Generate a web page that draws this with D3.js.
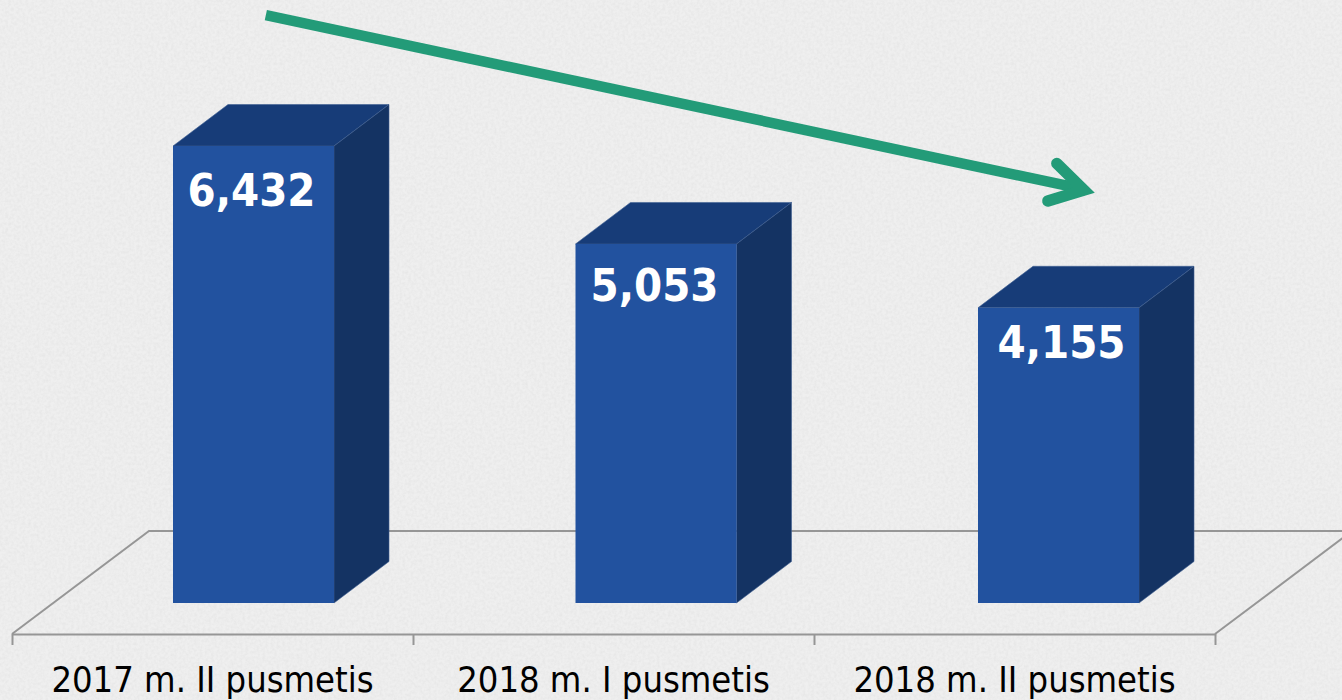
<!DOCTYPE html>
<html>
<head>
<meta charset="utf-8">
<script src="https://cdn.jsdelivr.net/npm/d3@7"></script>
<style>
html, body { margin: 0; padding: 0; background: #eeeeee; overflow: hidden; }
svg { display: block; }
</style>
</head>
<body>
<svg id="chart" width="1342" height="700"></svg>
<script>
var categories = ["2017 m. II pusmetis", "2018 m. I pusmetis", "2018 m. II pusmetis"]
var values = [6432, 5053, 4155]
// trend arrow ends: position along the floor (in categories) and height (in chart units)
var trendAlong = [0.633, 2.663]
var trendLevel = [8275, 5834]

var width = 1342
var height = 700
var floorY = 634
var floorLeft = 12
var floorRight = 1215
var floorDepth = {x: 137, y: -103}
var barDepth = {x: 55, y: -41.5}
var barBase = 603
var lineColor = "#969696"
var green = "#239b78"
var textFont = "'DejaVu Sans', sans-serif"

var svg = d3.select("#chart")

// paper texture behind everything
var defs = svg.append("defs")
var noise = defs.append("filter").attr("id", "paper")
    .attr("x", 0).attr("y", 0).attr("width", "100%").attr("height", "100%")
noise.append("feTurbulence")
    .attr("type", "fractalNoise")
    .attr("baseFrequency", 0.35)
    .attr("numOctaves", 3)
    .attr("seed", 4)
noise.append("feColorMatrix")
    .attr("type", "matrix")
    .attr("values", "0 0 0 0 0.5  0 0 0 0 0.5  0 0 0 0 0.5  0.28 0 0 0 -0.09")

svg.append("rect").attr("width", width).attr("height", height).attr("fill", "#efefef")
svg.append("rect").attr("width", width).attr("height", height).attr("filter", "url(#paper)")

// labels follow the floor, bars are pushed back on it so they get their own scale
var x = d3.scaleBand().domain(categories).range([floorLeft, floorRight]).paddingInner(0.6).paddingOuter(0.3)
var barX = d3.scaleBand().domain(categories).range([173, 1139]).paddingInner(0.6).paddingOuter(0)
var edges = d3.scaleLinear().domain([0, categories.length]).range([floorLeft, floorRight])
var y = d3.scaleLinear().domain([0, 6432]).range([barBase, 146])

// floor of the 3d plot
svg.append("path")
    .attr("d", d3.line()([
        [floorLeft, floorY],
        [floorLeft + floorDepth.x, floorY + floorDepth.y],
        [floorRight + floorDepth.x, floorY + floorDepth.y],
        [floorRight, floorY]
    ]))
    .attr("fill", "none")
    .attr("stroke", lineColor)
    .attr("stroke-width", 2)

var tickAxis = d3.axisBottom(edges).ticks(categories.length).tickSize(11).tickSizeOuter(0).tickFormat("")
var tickGroup = svg.append("g").attr("transform", "translate(0," + floorY + ")").call(tickAxis)
tickGroup.selectAll("line").attr("stroke", lineColor).attr("stroke-width", 2)
tickGroup.select(".domain").attr("stroke", lineColor).attr("stroke-width", 2)

var labelAxis = d3.axisBottom(x).tickSize(0).tickPadding(32)
var labelGroup = svg.append("g").attr("transform", "translate(0," + floorY + ")").call(labelAxis)
labelGroup.select(".domain").remove()
labelGroup.selectAll("text")
    .attr("fill", "#000000")
    .attr("font-family", textFont)
    .attr("font-stretch", "condensed")
    .attr("font-size", 36)

var labelNudge = [-2, -1.5, 3]
var labelDrop = [60, 57, 50]

var bars = svg.selectAll("g.bar")
    .data(values)
    .enter()
    .append("g")
    .attr("class", "bar")

function barLeft(d, i) { return barX(categories[i]) }

bars.append("polygon")
    .attr("fill", "#173c78")
    .attr("stroke", "#3f5f92")
    .attr("stroke-width", 0.6)
    .attr("points", function(d, i) {
        var l = barLeft(d, i), r = l + barX.bandwidth(), t = y(d)
        return [[l, t], [r, t], [r + barDepth.x, t + barDepth.y], [l + barDepth.x, t + barDepth.y]].join(" ")
    })

bars.append("polygon")
    .attr("fill", "#143363")
    .attr("stroke", "#3f5f92")
    .attr("stroke-width", 0.6)
    .attr("points", function(d, i) {
        var r = barLeft(d, i) + barX.bandwidth(), t = y(d)
        return [[r, t], [r + barDepth.x, t + barDepth.y], [r + barDepth.x, barBase + barDepth.y], [r, barBase]].join(" ")
    })

bars.append("rect")
    .attr("x", barLeft)
    .attr("y", function(d) { return y(d) })
    .attr("width", barX.bandwidth())
    .attr("height", function(d) { return barBase - y(d) })
    .attr("fill", "#22529f")

bars.append("text")
    .attr("x", function(d, i) { return barLeft(d, i) + barX.bandwidth() / 2 + labelNudge[i] })
    .attr("y", function(d, i) { return y(d) + labelDrop[i] })
    .attr("text-anchor", "middle")
    .attr("fill", "#ffffff")
    .attr("font-family", textFont)
    .attr("font-stretch", "condensed")
    .attr("font-weight", "bold")
    .attr("font-size", 45)
    .text(d3.format(","))

// trend arrow
var arrowStart = [edges(trendAlong[0]), y(trendLevel[0])]
var arrowEnd = [edges(trendAlong[1]), y(trendLevel[1])]

svg.append("path")
    .attr("d", d3.line()([arrowStart, arrowEnd]))
    .attr("stroke", green)
    .attr("stroke-width", 10.5)
    .attr("fill", "none")

svg.append("path")
    .attr("d", d3.line()([
        [arrowEnd[0] - 23, arrowEnd[1] - 25],
        [arrowEnd[0] + 4, arrowEnd[1] + 1.5],
        [arrowEnd[0] - 32, arrowEnd[1] + 12.5]
    ]))
    .attr("stroke", green)
    .attr("stroke-width", 11.5)
    .attr("stroke-linecap", "round")
    .attr("stroke-linejoin", "miter")
    .attr("fill", "none")
</script>
</body>
</html>
